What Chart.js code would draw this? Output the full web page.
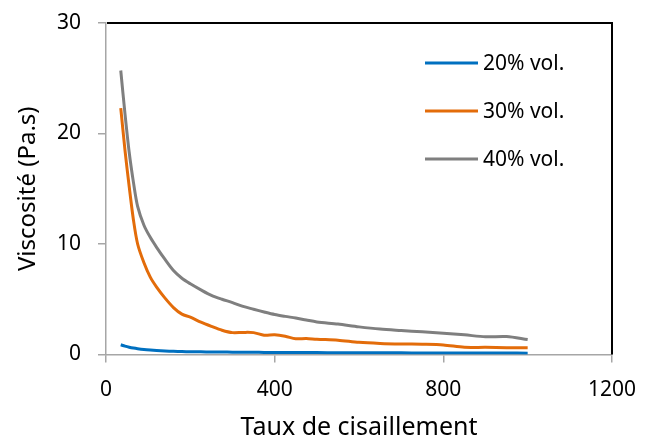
<!DOCTYPE html>
<html>
<head>
<meta charset="utf-8">
<script src="https://cdn.jsdelivr.net/npm/chart.js@4"></script>
<style>
  html, body { margin: 0; padding: 0; background: #fff; }
  #wrap { width: 651px; height: 443px; }
</style>
</head>
<body>
<div id="wrap"><canvas id="chart" width="651" height="443"></canvas></div>
<script>
// shear rate (x) shared by the three series
const shearRate = [35, 45, 55, 65, 75, 90, 105, 120, 140, 160, 180, 200, 225, 250, 275, 300, 325, 350, 375, 400,
  425, 450, 475, 500, 550, 600, 650, 700, 750, 800, 850, 900, 950, 1000];

const vol20 = [0.88, 0.76, 0.66, 0.58, 0.52, 0.45, 0.40, 0.36, 0.32, 0.29, 0.27, 0.25, 0.24, 0.23, 0.22, 0.21, 0.20, 0.20, 0.19, 0.19,
  0.18, 0.18, 0.17, 0.17, 0.16, 0.16, 0.15, 0.15, 0.14, 0.14, 0.13, 0.13, 0.13, 0.12];
const vol30 = [22.3, 18.5, 15.2, 12.2, 10.0, 8.3, 7.0, 6.1, 5.1, 4.25, 3.65, 3.38, 2.93, 2.55, 2.2, 1.98, 2.0, 1.98, 1.75, 1.78,
  1.65, 1.43, 1.45, 1.38, 1.3, 1.1, 1.0, 0.95, 0.93, 0.87, 0.65, 0.65, 0.62, 0.6];
const vol40 = [25.7, 21.8, 18.3, 15.6, 13.4, 11.7, 10.6, 9.7, 8.6, 7.6, 6.9, 6.4, 5.85, 5.35, 5.0, 4.7, 4.35, 4.1, 3.85, 3.62,
  3.45, 3.3, 3.12, 2.95, 2.75, 2.5, 2.3, 2.17, 2.05, 1.93, 1.78, 1.6, 1.62, 1.35];

const seriesNames = ['20% vol.', '30% vol.', '40% vol.'];
const seriesColors = ['#0070C0', '#E36C0A', '#7F7F7F'];
const xTicks = [0, 400, 800, 1200];
const yTicks = [0, 10, 20, 30];

const FONT = "'Noto Sans', sans-serif";
const axisGray = '#A6A6A6';

const toPoints = ys => ys.map((y, i) => ({ x: shearRate[i], y: y }));

// black frame on top and right of the plot area, like the original
const frame = {
  id: 'frame',
  afterDatasetsDraw(chart) {
    const { ctx, chartArea: a } = chart;
    ctx.save();
    ctx.strokeStyle = '#000';
    ctx.lineWidth = 2;
    ctx.beginPath();
    ctx.moveTo(a.left + 1, a.top);
    ctx.lineTo(a.right, a.top);
    ctx.lineTo(a.right, a.bottom);
    ctx.stroke();
    ctx.restore();
  }
};

// legend sitting inside the plot, top right
const insideLegend = {
  id: 'insideLegend',
  afterDraw(chart) {
    const { ctx, chartArea: a } = chart;
    const x0 = a.right - 187, lineLen = 53, y0 = a.top + 40, step = 48;
    ctx.save();
    ctx.font = '21px ' + FONT;
    ctx.textBaseline = 'middle';
    ctx.fillStyle = '#000';
    chart.data.datasets.forEach((ds, i) => {
      const y = y0 + i * step;
      ctx.strokeStyle = ds.borderColor;
      ctx.lineWidth = 3;
      ctx.beginPath();
      ctx.moveTo(x0, y);
      ctx.lineTo(x0 + lineLen, y);
      ctx.stroke();
      ctx.fillText(ds.label, x0 + lineLen + 5, y + 1);
    });
    ctx.restore();
  }
};

new Chart(document.getElementById('chart'), {
  type: 'line',
  data: {
    datasets: [vol20, vol30, vol40].map((ys, i) => ({
      label: seriesNames[i],
      data: toPoints(ys),
      borderColor: seriesColors[i],
      backgroundColor: seriesColors[i],
      borderWidth: 3,
      pointRadius: 0,
      tension: 0.3,
      fill: false
    }))
  },
  options: {
    responsive: false,
    animation: false,
    layout: { padding: { left: 0, top: 23, right: 39, bottom: 0 } },
    plugins: { legend: { display: false }, tooltip: { enabled: false } },
    scales: {
      x: {
        type: 'linear',
        min: 0, max: 1200,
        afterBuildTicks: s => { s.ticks = xTicks.map(v => ({ value: v })); },
        afterFit: s => { s.height = 88.5; s.paddingLeft = 0; s.paddingRight = 0; },
        grid: { drawOnChartArea: false, drawTicks: true, tickLength: 8, color: axisGray, lineWidth: 1.5 },
        border: { color: axisGray, width: 1.5 },
        ticks: { color: '#000', font: { family: FONT, size: 21 }, padding: 15, maxRotation: 0, callback: v => String(v) },
        title: { display: true, text: 'Taux de cisaillement', color: '#000', font: { family: FONT, size: 25 }, padding: { top: 0, bottom: 0 } }
      },
      y: {
        min: 0, max: 30,
        afterBuildTicks: s => { s.ticks = yTicks.map(v => ({ value: v })); },
        afterFit: s => { s.width = 106; s.paddingTop = 0; s.paddingBottom = 0; },
        grid: { drawOnChartArea: false, drawTicks: true, tickLength: 8, color: axisGray, lineWidth: 1.5 },
        border: { color: axisGray, width: 1.5 },
        ticks: { color: '#000', font: { family: FONT, size: 21 }, padding: 17, callback: v => String(v) },
        title: { display: true, text: 'Viscosité (Pa.s)', color: '#000', font: { family: FONT, size: 24 }, padding: { top: 14, bottom: 0 } }
      }
    }
  },
  plugins: [frame, insideLegend]
});
</script>
</body>
</html>
